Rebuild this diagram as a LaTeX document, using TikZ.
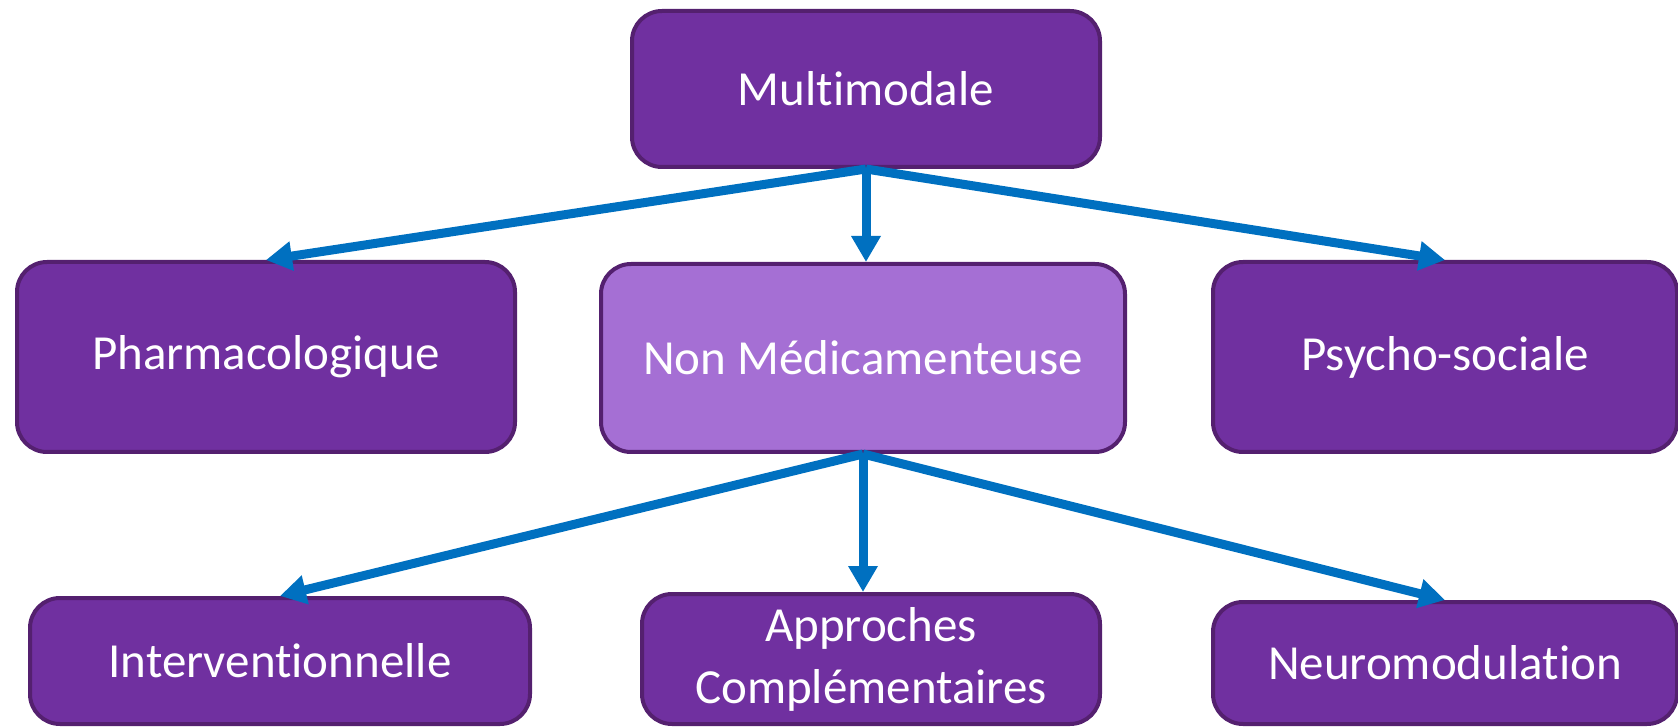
\documentclass[tikz,border=0pt]{standalone}
\usepackage{fontspec}
\setmainfont{Carlito}[Ligatures=CommonOff]
\usetikzlibrary{arrows.meta}
\definecolor{boxfill}{HTML}{7030A0}
\definecolor{boxline}{HTML}{54206F}
\definecolor{lightfill}{HTML}{A56FD4}
\definecolor{arrowblue}{HTML}{0070C0}

\begin{document}
\begin{tikzpicture}[x=0.5pt,y=-0.5pt]
      \tikzstyle{box} = [draw=boxline, fill=boxfill, line width=2pt, rounded corners=15pt,
        text=white, font=\fontsize{24.5}{31}\selectfont, align=center, inner sep=0pt]
      \tikzstyle{flow} = [draw=arrowblue, line width=4.5pt, -{Triangle[length=13pt,width=14pt]}]
      \useasboundingbox (0,0) rectangle (1678,727);
      % top level
      \node[box, minimum width=234pt, minimum height=78pt] (multi) at (866,89) {Multimodale};
      % middle row
      \node[box, minimum width=249pt, minimum height=95pt] (pharma) at (266,357) {Pharmacologique};
      \node[box, fill=lightfill, minimum width=262pt, minimum height=94pt] (nonmed) at (863,358) {Non Médicamenteuse};
      \node[box, minimum width=232pt, minimum height=95pt] (psycho) at (1445,357) {Psycho-sociale};
      % bottom row
      \node[box, minimum width=250pt, minimum height=63pt] (interv) at (280,661) {Interventionnelle};
      \node[box, minimum width=229pt, minimum height=65pt] (compl) at (871,659) {Approches\\Compl\'ementaires};
      \node[box, minimum width=232pt, minimum height=61pt] (neuro) at (1445,663) {Neuromodulation};
      % arrows
      \foreach \t in {pharma,psycho}
        \path[flow] (multi.south) -- (\t.north);
      \path[flow] (multi.south) -- (multi.south |- nonmed.north);
      \foreach \t in {interv,neuro}
        \path[flow] (nonmed.south) -- (\t.north);
      \path[flow] (nonmed.south) -- (nonmed.south |- compl.north);
\end{tikzpicture}
\end{document}
